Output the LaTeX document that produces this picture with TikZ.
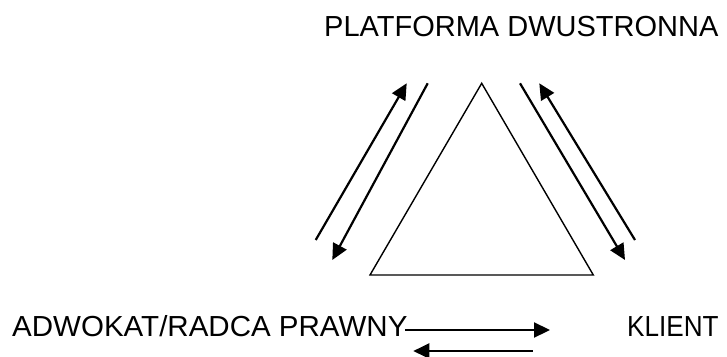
\documentclass[tikz,border=0pt]{standalone}
\usepackage{fontspec}
\setmainfont{Liberation Sans}
\usetikzlibrary{arrows.meta}
\begin{document}
\begin{tikzpicture}[x=1pt,y=-1pt,
  lbl/.style={anchor=base west,inner sep=0pt,font=\fontsize{29}{34}\selectfont},
  arr/.style={line width=2.2pt,-{Triangle[length=16pt,width=15pt]}},
  tri/.style={line width=1.4pt,line join=miter}]
\useasboundingbox (0,0) rectangle (727,356);
\node[lbl] (plat) at (324,36) {PLATFORMA DWUSTRONNA};
\node[lbl] (adw) at (12,336) {\scalebox{1.018}[1]{ADWOKAT/RADCA PRAWNY}};
\node[lbl] (kli) at (627,336) {\scalebox{0.9}[1]{KLIENT}};
% triangle
\coordinate (ta) at (481.7,83.3);
\coordinate (tl) at (370,275);
\coordinate (tr) at (593.3,275);
\draw[tri] (ta) -- (tl) -- (tr) -- cycle;
% left pair
\coordinate (l1s) at (315.7,240);
\coordinate (l1e) at (406.7,83.3);
\coordinate (l2s) at (427.7,83.3);
\coordinate (l2e) at (332.3,260);
\draw[arr] (l1s) -- (l1e);
\draw[arr] (l2s) -- (l2e);
% right pair
\coordinate (r1s) at (520,83.3);
\coordinate (r1e) at (625,260);
\coordinate (r2s) at (635,240);
\coordinate (r2e) at (539.3,83.3);
\draw[arr] (r1s) -- (r1e);
\draw[arr] (r2s) -- (r2e);
% bottom pair
\coordinate (b1s) at (405,330);
\coordinate (b1e) at (550,330);
\coordinate (b2s) at (532.7,351);
\coordinate (b2e) at (413.3,351);
\draw[arr] (b1s) -- (b1e);
\draw[arr] (b2s) -- (b2e);
\end{tikzpicture}
\end{document}
